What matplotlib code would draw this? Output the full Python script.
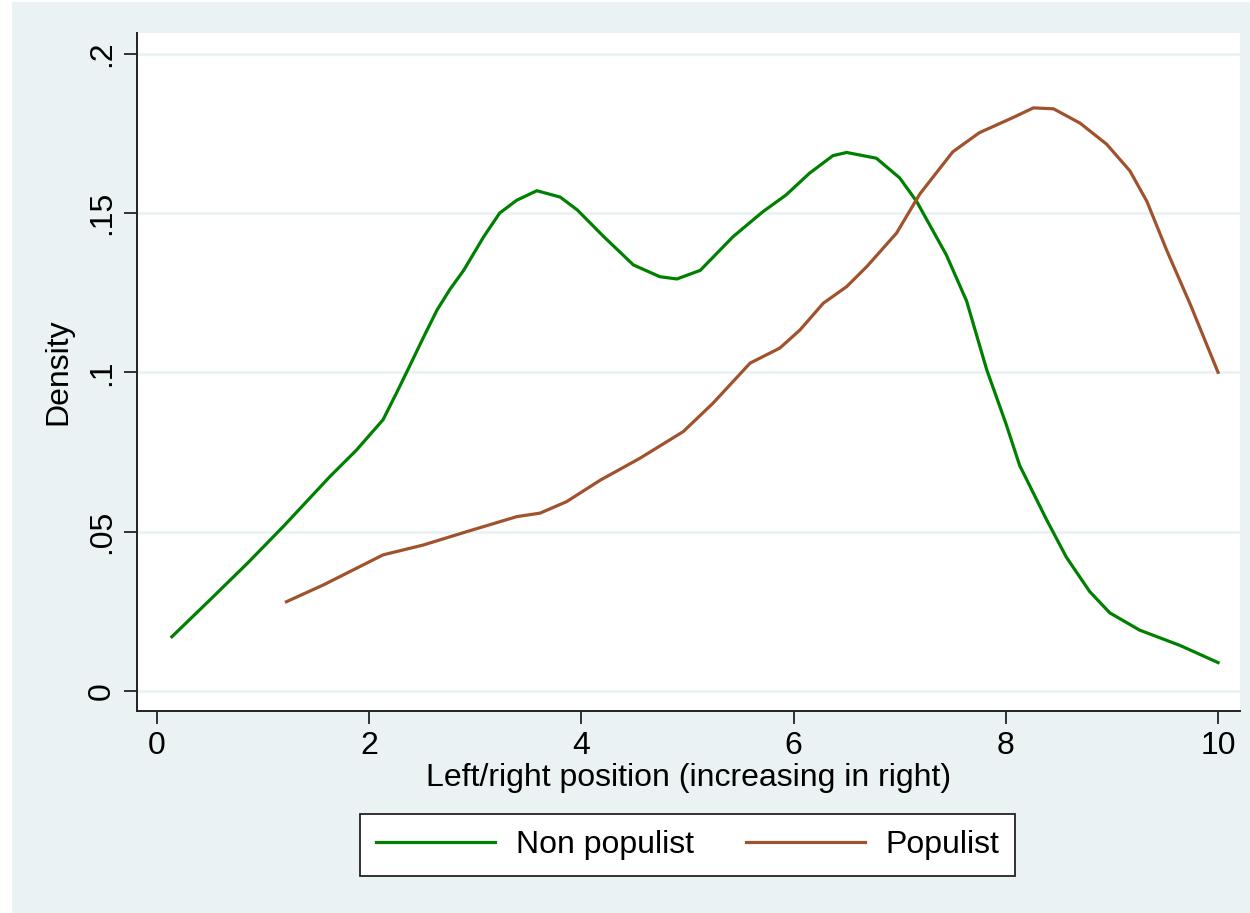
import matplotlib
matplotlib.use("Agg")
import matplotlib.pyplot as plt
from matplotlib.patches import Rectangle

# Data (kernel density estimates)
nonpop_x = [0.14, 0.50, 0.85, 1.19, 1.63, 1.88, 2.13, 2.26, 2.37, 2.51, 2.64, 2.76, 2.89,
            3.08, 3.23, 3.39, 3.58, 3.80, 3.96, 4.21, 4.49, 4.74, 4.90, 5.12, 5.43, 5.71,
            5.93, 6.15, 6.37, 6.50, 6.78, 7.00, 7.16, 7.44, 7.63, 7.82, 8.00, 8.13, 8.38,
            8.57, 8.79, 8.98, 9.26, 9.64, 10.0]
nonpop_y = [0.0170, 0.0286, 0.0400, 0.0516, 0.0673, 0.0756, 0.0851, 0.0937, 0.1012, 0.1109,
            0.1196, 0.1260, 0.1320, 0.1426, 0.1500, 0.1540, 0.1570, 0.1550, 0.1510, 0.1426,
            0.1337, 0.1300, 0.1293, 0.1320, 0.1426, 0.1504, 0.1557, 0.1625, 0.1680, 0.1690,
            0.1672, 0.1610, 0.1536, 0.1368, 0.1224, 0.1008, 0.0840, 0.0708, 0.0540, 0.0420,
            0.0312, 0.0245, 0.0191, 0.0143, 0.0089]

pop_x = [1.22, 1.57, 1.88, 2.13, 2.51, 2.92, 3.39, 3.61, 3.86, 4.18, 4.55, 4.96, 5.24,
         5.59, 5.87, 6.06, 6.28, 6.50, 6.69, 6.97, 7.19, 7.50, 7.75, 8.07, 8.26, 8.45,
         8.70, 8.95, 9.17, 9.33, 9.52, 9.74, 10.0]
pop_y = [0.0280, 0.0333, 0.0385, 0.0427, 0.0458, 0.0500, 0.0547, 0.0558, 0.0594, 0.0662,
         0.0730, 0.0814, 0.0903, 0.1029, 0.1076, 0.1133, 0.1217, 0.1269, 0.1332, 0.1437,
         0.1560, 0.1692, 0.1752, 0.1800, 0.1830, 0.1827, 0.1782, 0.1716, 0.1632, 0.1536,
         0.1380, 0.1212, 0.1000]

series_labels = ["Non populist", "Populist"]
x_ticks = [0, 2, 4, 6, 8, 10]
y_ticks = [0, 0.05, 0.1, 0.15, 0.2]
y_ticklabels = ["0", ".05", ".1", ".15", ".2"]

BG = "#EAF2F3"
GREEN = "#008000"
SIENNA = "#A0522D"
FS = 23

plt.rcParams['font.family'] = ['Liberation Sans', 'DejaVu Sans']

fig = plt.figure(figsize=(12.5, 9.13), dpi=100)
fig.patch.set_facecolor("white")
fig.patches.append(Rectangle((12 / 1250, 0), 1, 1 - 2 / 913, transform=fig.transFigure,
                             facecolor=BG, edgecolor="none", zorder=-10))

ax = fig.add_axes([137 / 1250, 1 - 711 / 913, (1240 - 137) / 1250, (711 - 33) / 913])
ax.set_zorder(1)
ax.set_facecolor("white")

l1, = ax.plot(nonpop_x, nonpop_y, color=GREEN, lw=2.3, label=series_labels[0], zorder=3)
l2, = ax.plot(pop_x, pop_y, color=SIENNA, lw=2.3, label=series_labels[1], zorder=3)

ax.set_xlim(-0.1885, 10.207)
ax.set_ylim(-0.0063, 0.2065)

ax.set_xticks(x_ticks)
ax.set_xticklabels([str(t) for t in x_ticks])
ax.set_yticks(y_ticks)
ax.set_yticklabels(y_ticklabels, rotation=90, va="center")

ax.grid(axis="y", color=BG, lw=2.0, zorder=1)
ax.set_axisbelow(True)

for s in ["top", "right"]:
    ax.spines[s].set_visible(False)
for s in ["left", "bottom"]:
    ax.spines[s].set_color("#222222")
    ax.spines[s].set_linewidth(1.4)

ax.tick_params(axis="both", direction="out", length=9.5, width=1.3, color="#222222",
               labelsize=FS, pad=5)

ax.set_xlabel("Left/right position (increasing in right)", fontsize=FS, labelpad=1)
ax.set_ylabel("Density", fontsize=FS, labelpad=10)

leg = fig.legend(handles=[l1, l2], labels=series_labels, loc="center",
                 bbox_to_anchor=(0.55, 1 - 845 / 913), ncol=2, fontsize=FS,
                 frameon=True, fancybox=False, edgecolor="#222222", framealpha=1,
                 handlelength=3.73, handletextpad=0.63, columnspacing=1.63,
                 borderpad=0.5)
leg.get_frame().set_linewidth(1.3)
leg.get_frame().set_facecolor("white")

fig.savefig("out.png", dpi=100, facecolor=fig.get_facecolor())
